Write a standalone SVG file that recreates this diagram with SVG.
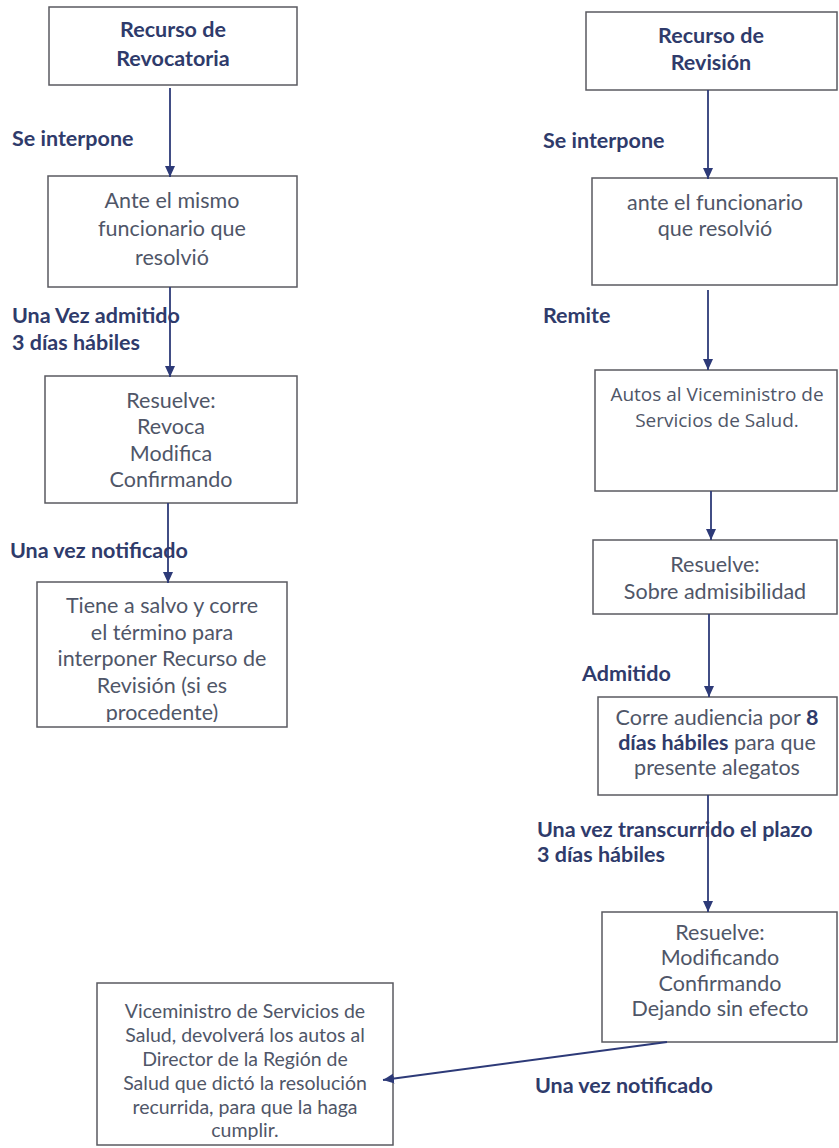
<svg xmlns="http://www.w3.org/2000/svg" width="839" height="1148" viewBox="0 0 839 1148">
<defs>
<style>
.box{fill:#fff;stroke:#5a5a60;stroke-width:1.5}
.t{font-family:Lato,"Open Sans",sans-serif;font-size:21.5px;fill:#4f5668;text-anchor:middle}
.tb{font-family:Lato,"Open Sans",sans-serif;font-size:21.5px;font-weight:bold;fill:#2f3b6b;text-anchor:middle}
.lb{font-family:Lato,"Open Sans",sans-serif;font-size:21.5px;font-weight:bold;fill:#2f3b6b}
.ts{font-family:"Open Sans","Noto Sans",sans-serif;font-size:19px;fill:#4f5668;text-anchor:middle}
.t2{font-family:Lato,"Open Sans",sans-serif;font-size:19.5px;fill:#4f5668;text-anchor:middle}
.con{stroke:#2d3a78;stroke-width:1.8;fill:none;marker-end:url(#ah)}
</style>
<marker id="ah" markerUnits="userSpaceOnUse" markerWidth="12" markerHeight="12" viewBox="0 0 12 12" refX="11" refY="6" orient="auto">
<path d="M0,1 L11,6 L0,11 Z" fill="#2d3a78"/>
</marker>
<clipPath id="c4"><rect x="37" y="582" width="250" height="140"/></clipPath>
</defs>
<rect width="839" height="1148" fill="#fff"/>

<g id="labels">
<text class="lb" x="12" y="146">Se interpone</text>
<text class="lb" x="12" y="323">Una Vez admitido</text>
<text class="lb" x="12" y="350">3 días hábiles</text>
<text class="lb" x="10" y="558">Una vez notificado</text>
<text class="lb" x="543" y="148">Se interpone</text>
<text class="lb" x="543" y="323">Remite</text>
<text class="lb" x="582" y="681">Admitido</text>
<text class="lb" x="537" y="837">Una vez transcurrido el plazo</text>
<text class="lb" x="537" y="862">3 días hábiles</text>
<text class="lb" x="535" y="1093">Una vez notificado</text>
</g>

<g id="n1">
<rect class="box" x="49" y="7" width="248" height="78"/>
<text class="tb" x="173" y="37">Recurso de</text>
<text class="tb" x="173" y="66">Revocatoria</text>
</g>
<g id="n2">
<rect class="box" x="48" y="176" width="249" height="111"/>
<text class="t" x="172" y="208">Ante el mismo</text>
<text class="t" x="172" y="236">funcionario que</text>
<text class="t" x="172" y="265">resolvió</text>
</g>
<g id="n3">
<rect class="box" x="45" y="376" width="252" height="127"/>
<text class="t" x="171" y="408">Resuelve:</text>
<text class="t" x="171" y="434">Revoca</text>
<text class="t" x="171" y="461">Modifica</text>
<text class="t" x="171" y="487">Confirmando</text>
</g>
<g id="n4">
<rect class="box" x="37" y="582" width="250" height="145"/>
<g clip-path="url(#c4)">
<text class="t" x="162" y="613">Tiene a salvo y corre</text>
<text class="t" x="162" y="640">el término para</text>
<text class="t" x="162" y="666">interponer Recurso de</text>
<text class="t" x="162" y="693">Revisión (si es</text>
<text class="t" x="162" y="720">procedente)</text>
</g>
</g>

<g id="r1">
<rect class="box" x="586" y="12" width="251" height="78"/>
<text class="tb" x="711" y="43">Recurso de</text>
<text class="tb" x="711" y="70">Revisión</text>
</g>
<g id="r2">
<rect class="box" x="592" y="178" width="245" height="107"/>
<text class="t" x="715" y="210">ante el funcionario</text>
<text class="t" x="715" y="236">que resolvió</text>
</g>
<g id="r3">
<rect class="box" x="595" y="370" width="242" height="121"/>
<text class="ts" x="717" y="401">Autos al Viceministro de</text>
<text class="ts" x="717" y="427">Servicios de Salud.</text>
</g>
<g id="r4">
<rect class="box" x="593" y="540" width="244" height="74"/>
<text class="t" x="715" y="572">Resuelve:</text>
<text class="t" x="715" y="599">Sobre admisibilidad</text>
</g>
<g id="r5">
<rect class="box" x="598" y="697" width="239" height="98"/>
<text class="t" x="717" y="725">Corre audiencia por <tspan font-weight="bold" fill="#2f3b6b">8</tspan></text>
<text class="t" x="717" y="750"><tspan font-weight="bold" fill="#2f3b6b">días hábiles</tspan> para que</text>
<text class="t" x="717" y="775">presente alegatos</text>
</g>
<g id="r6">
<rect class="box" x="602" y="912" width="235" height="130"/>
<text class="t" x="720" y="940">Resuelve:</text>
<text class="t" x="720" y="965">Modificando</text>
<text class="t" x="720" y="991">Confirmando</text>
<text class="t" x="720" y="1016">Dejando sin efecto</text>
</g>
<g id="n5">
<rect class="box" x="97" y="983" width="296" height="162"/>
<text class="t2" x="245" y="1018">Viceministro de Servicios de</text>
<text class="t2" x="245" y="1042">Salud, devolverá los autos al</text>
<text class="t2" x="245" y="1066">Director de la Región de</text>
<text class="t2" x="245" y="1090">Salud que dictó la resolución</text>
<text class="t2" x="245" y="1114">recurrida, para que la haga</text>
<text class="t2" x="245" y="1137">cumplir.</text>
</g>

<g id="connectors">
<line class="con" x1="170" y1="88" x2="170" y2="177"/>
<line class="con" x1="170" y1="287" x2="170" y2="377"/>
<line class="con" x1="168" y1="503" x2="168" y2="583"/>
<line class="con" x1="708" y1="90" x2="708" y2="179"/>
<line class="con" x1="708" y1="290" x2="708" y2="370"/>
<line class="con" x1="711" y1="491" x2="711" y2="540"/>
<line class="con" x1="709" y1="614" x2="709" y2="697"/>
<line class="con" x1="708" y1="795" x2="708" y2="912"/>
<line class="con" x1="667" y1="1042" x2="383" y2="1080"/>
</g>
</svg>
